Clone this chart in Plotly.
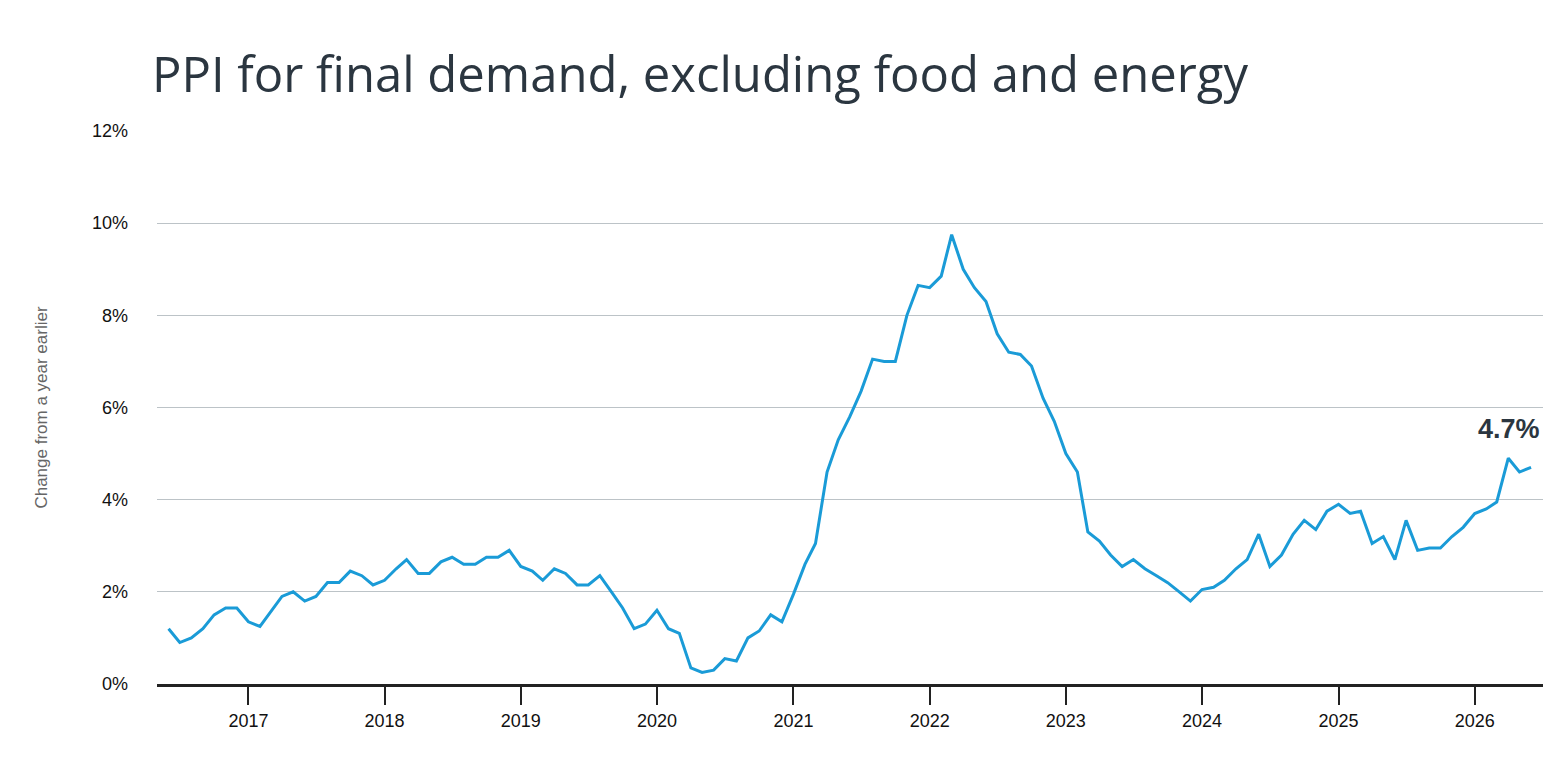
import plotly.graph_objects as go
import pandas as pd

dates = pd.date_range("2016-06-01", "2026-06-01", freq="MS")
values = [
    1.2, 0.9, 1.0, 1.2, 1.5, 1.65, 1.65,
    1.35, 1.25, 1.55, 1.9, 2.0, 1.8, 1.9, 2.2, 2.2, 2.45, 2.35, 2.15,
    2.25, 2.5, 2.7, 2.4, 2.4, 2.65, 2.75, 2.6, 2.6, 2.75, 2.75, 2.9,
    2.55, 2.45, 2.25, 2.5, 2.4, 2.15, 2.15, 2.35, 2.0, 1.65, 1.2, 1.3,
    1.6, 1.2, 1.1, 0.35, 0.25, 0.3, 0.55, 0.5, 1.0, 1.15, 1.5, 1.35,
    1.95, 2.6, 3.05, 4.6, 5.3, 5.8, 6.35, 7.05, 7.0, 7.0, 8.0, 8.65,
    8.6, 8.85, 9.75, 9.0, 8.6, 8.3, 7.6, 7.2, 7.15, 6.9, 6.2, 5.7,
    5.0, 4.6, 3.3, 3.1, 2.8, 2.55, 2.7, 2.5, 2.35, 2.2, 2.0, 1.8,
    2.05, 2.1, 2.25, 2.5, 2.7, 3.25, 2.55, 2.8, 3.25, 3.55, 3.35, 3.75,
    3.9, 3.7, 3.75, 3.05, 3.2, 2.7, 3.55, 2.9, 2.95, 2.95, 3.2, 3.4,
    3.7, 3.8, 3.95, 4.9, 4.6, 4.7,
]
year_ticks = [f"{y}-01-01" for y in range(2017, 2027)]
year_labels = [str(y) for y in range(2017, 2027)]
y_ticks = [0, 2, 4, 6, 8, 10, 12]
y_labels = [f"{v}%" for v in y_ticks]

fig = go.Figure(go.Scatter(x=dates, y=values, mode="lines",
                           line=dict(color="#1a9bd7", width=3), hoverinfo="skip"))
fig.add_annotation(x=dates[-1], y=values[-1], text="<b>4.7%</b>", showarrow=False,
                   yshift=38, xshift=-22, font=dict(size=27, color="#2b3640", family="Liberation Sans"))
fig.update_layout(
    width=1560, height=780, plot_bgcolor="white", paper_bgcolor="white",
    margin=dict(l=149, r=25, t=123, b=104), showlegend=False,
    title=dict(text="PPI for final demand, excluding food and energy", x=144/1560, xanchor="left",
               y=1-67/780, yanchor="middle", font=dict(size=49, color="#2b3640", family="Open Sans")),
    font=dict(family="Liberation Sans", color="#111", size=18),
    xaxis=dict(range=["2016-05-01", "2026-07-03"], tickvals=year_ticks, ticktext=year_labels,
               ticks="outside", ticklen=18, tickwidth=2, tickcolor="#222", showgrid=False,
               showline=True, linecolor="#222", linewidth=3, tickfont=dict(size=18)),
    yaxis=dict(range=[0, 12], tickvals=y_ticks, ticktext=y_labels, gridcolor="#bcc3c7",
               gridwidth=1, zeroline=False, showline=False, ticklabelstandoff=28,
               title=dict(text="Change from a year earlier", standoff=40,
                          font=dict(size=17, color="#666"))),
)
fig.write_html("out.html")
